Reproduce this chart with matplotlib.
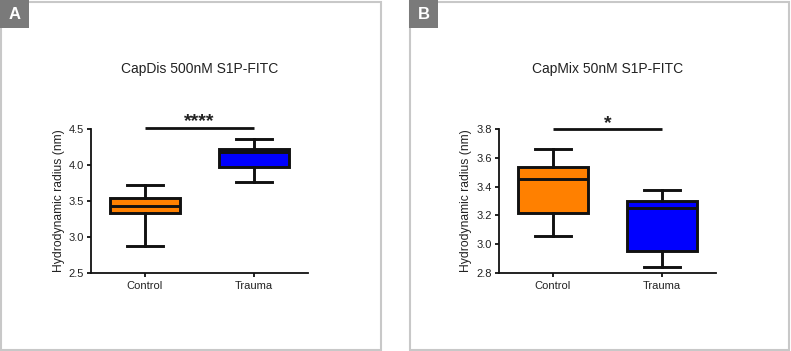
import matplotlib.pyplot as plt
from matplotlib.patches import Rectangle

plt.rcParams['font.family'] = ['Liberation Sans', 'DejaVu Sans']

# data (box-and-whisker: min, Q1, median, Q3, max)
groups = ['Control', 'Trauma']
box_colors = ['#ff8000', '#0000ff']

capdis_min = [2.87, 3.77]
capdis_q1 = [3.34, 3.97]
capdis_med = [3.43, 4.18]
capdis_q3 = [3.545, 4.225]
capdis_max = [3.72, 4.36]

capmix_min = [3.055, 2.845]
capmix_q1 = [3.22, 2.95]
capmix_med = [3.455, 3.25]
capmix_q3 = [3.533, 3.302]
capmix_max = [3.662, 3.377]

W, H = 791, 351
fig = plt.figure(figsize=(W / 100, H / 100), dpi=100)


def px_box(x0, y0, x1, y1):
    # pixel box (top-left origin) -> figure fraction rect
    return [x0 / W, 1 - y1 / H, (x1 - x0) / W, (y1 - y0) / H]


def panel(x0, x1, letter):
    # grey frame + letter tag
    fig.patches.append(Rectangle((x0 / W, 1 / H), (x1 - x0) / W, 348 / H,
                                 transform=fig.transFigure, fill=False,
                                 edgecolor='#c8c8c8', linewidth=1.5))
    lx = x0 - 1
    fig.patches.append(Rectangle((lx / W, 1 - 28 / H), 29 / W, 28 / H,
                                 transform=fig.transFigure, facecolor='#7a7a7a',
                                 edgecolor='none'))
    fig.text((lx + 14.5) / W, 1 - 14.5 / H, letter, color='white', fontsize=12,
             fontweight='bold', ha='center', va='center')


def boxplot(ax, mins, q1, med, q3, maxs, ylim, yticks, title, stars, bar_y):
    stats = []
    for i in range(len(groups)):
        stats.append(dict(label=groups[i], whislo=mins[i], q1=q1[i], med=med[i],
                          q3=q3[i], whishi=maxs[i], fliers=[]))
    bp = ax.bxp(stats, positions=[0, 1], widths=0.65, patch_artist=True,
                showfliers=False,
                boxprops=dict(linewidth=2.1, edgecolor='#111111'),
                medianprops=dict(color='#111111', linewidth=2.1),
                whiskerprops=dict(color='#111111', linewidth=2.1),
                capprops=dict(color='#111111', linewidth=2.1))
    for patch, c in zip(bp['boxes'], box_colors):
        patch.set_facecolor(c)
    ax.set_xlim(-0.495, 1.495)
    ax.set_ylim(*ylim)
    ax.set_yticks(yticks)
    ax.set_yticklabels(['%.1f' % t for t in yticks])
    ax.set_xticks([0, 1])
    ax.set_xticklabels(groups)
    for s in ['top', 'right']:
        ax.spines[s].set_visible(False)
    for s in ['left', 'bottom']:
        ax.spines[s].set_linewidth(1.3)
        ax.spines[s].set_color('#111111')
    ax.tick_params(direction='out', length=3, width=1.3, color='#111111',
                   labelsize=8, pad=2, labelcolor='#222222')
    ax.tick_params(axis='x', pad=3)
    ax.set_ylabel('Hydrodynamic radius (nm)', fontsize=8.7, labelpad=3,
                  color='#222222')
    # significance bar
    ax.plot([0, 1], [bar_y, bar_y], color='#111111', linewidth=2,
            clip_on=False, solid_capstyle='butt')
    ax.annotate(stars, xy=(0.5, bar_y), xytext=(0, 1.2),
                textcoords='offset points', ha='center', va='baseline',
                fontsize=14, fontweight='bold', color='#222222',
                annotation_clip=False)
    pos = ax.get_position()
    fig.text(pos.x0 + pos.width / 2, 1 - 73 / H, title, ha='center',
             va='baseline', fontsize=10, color='#222222')


panel(1, 381, 'A')
panel(410, 789, 'B')

ax1 = fig.add_axes(px_box(91, 129, 308, 273))
boxplot(ax1, capdis_min, capdis_q1, capdis_med, capdis_q3, capdis_max,
        (2.5, 4.5), [2.5, 3.0, 3.5, 4.0, 4.5], 'CapDis 500nM S1P-FITC',
        '****', 4.52)

ax2 = fig.add_axes(px_box(499, 129, 716, 273))
boxplot(ax2, capmix_min, capmix_q1, capmix_med, capmix_q3, capmix_max,
        (2.8, 3.8), [2.8, 3.0, 3.2, 3.4, 3.6, 3.8], 'CapMix 50nM S1P-FITC',
        '*', 3.797)

fig.savefig('out.png', dpi=100)
